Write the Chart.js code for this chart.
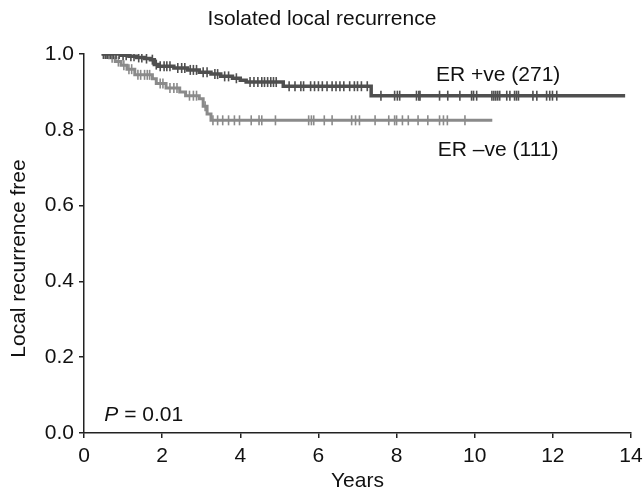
<!DOCTYPE html>
<html>
<head>
<meta charset="utf-8">
<script src="https://cdn.jsdelivr.net/npm/chart.js@4/dist/chart.umd.min.js"></script>
<style>
  body { margin: 0; background: #fff; }
</style>
</head>
<body>
<canvas id="km" width="644" height="491"></canvas>
<script>
// Kaplan-Meier steps (time in years, survival after the drop)
let posTimes = [0.45, 0.95, 1.15, 1.35, 1.55, 1.7, 1.8, 1.9, 2.3, 2.65, 2.95, 3.25, 3.5, 3.8, 4.0, 4.15, 5.1, 7.35, 13.85];
let posSurv  = [1.0, 0.997, 0.994, 0.991, 0.988, 0.985, 0.972, 0.968, 0.963, 0.958, 0.952, 0.947, 0.941, 0.936, 0.931, 0.926, 0.915, 0.89, 0.89];
let negTimes = [0.45, 0.65, 0.8, 0.95, 1.1, 1.3, 1.75, 1.85, 2.1, 2.45, 2.6, 2.95, 3.05, 3.15, 3.25, 10.45];
let negSurv  = [1.0, 0.99, 0.98, 0.97, 0.96, 0.945, 0.935, 0.922, 0.91, 0.9, 0.89, 0.882, 0.862, 0.842, 0.825, 0.825];

// censored observations (years)
let posCensor = [0.5, 0.55, 0.6, 0.68, 0.75, 0.82, 0.9, 1.0, 1.08, 1.2, 1.28, 1.4, 1.48, 1.6, 1.75, 1.85, 1.95, 2.05, 2.12, 2.2, 2.4, 2.5, 2.58, 2.72, 2.8, 2.88, 3.05, 3.15, 3.35, 3.42, 3.6, 3.7, 3.9, 4.25, 4.35, 4.45, 4.55, 4.62, 4.7, 4.78, 4.85, 4.92, 5.25, 5.4, 5.55, 5.62, 5.8, 5.9, 6.0, 6.1, 6.22, 6.35, 6.45, 6.55, 6.65, 6.8, 6.92, 7.0, 7.1, 7.25, 7.6, 7.95, 8.02, 8.08, 8.51, 8.57, 8.6, 9.1, 9.31, 9.62, 9.92, 9.97, 10.05, 10.44, 10.49, 10.54, 10.59, 10.64, 10.82, 10.9, 11.02, 11.07, 11.12, 11.49, 11.59, 11.84, 11.92, 11.99, 12.1];
let negCensor = [0.5, 0.58, 0.72, 0.88, 1.02, 1.15, 1.22, 1.38, 1.45, 1.55, 1.62, 1.68, 1.95, 2.02, 2.2, 2.3, 2.38, 2.7, 2.8, 2.88, 3.1, 3.3, 3.42, 3.55, 3.7, 3.85, 3.98, 4.28, 4.48, 4.55, 4.9, 5.75, 5.82, 5.88, 6.15, 6.35, 6.85, 6.95, 7.05, 7.45, 7.8, 7.95, 8.0, 8.15, 8.3, 8.55, 8.8, 9.1, 9.2, 9.3, 9.75];

let xTicks = [0, 2, 4, 6, 8, 10, 12, 14];
let yTicks = [0, 0.2, 0.4, 0.6, 0.8, 1.0];

let seriesNames = ['ER +ve (271)', 'ER \u2013ve (111)'];
let labelX = [10.6, 10.6];
let labelY = [0.945, 0.747];

let darkGrey = '#4f4f4f';
let lightGrey = '#8a8a8a';
let font = '"Liberation Sans", Arial, sans-serif';
let fsize = 21;

function toPoints(times, surv) {
    return times.map((t, i) => ({ x: t, y: surv[i] }));
}

// survival level at a censoring time, looked up from the step arrays
function levelAt(times, surv, t) {
    let v = surv[0];
    for (let i = 0; i < times.length; i++) {
        if (times[i] <= t) v = surv[i];
    }
    return v;
}

function censorPoints(times, surv, cens) {
    return cens.map(t => ({ x: t, y: levelAt(times, surv, t) }));
}

const textPlugin = {
    id: 'texts',
    afterDraw(chart) {
        const ctx = chart.ctx;
        const xs = chart.scales.x;
        const ys = chart.scales.y;
        const area = chart.chartArea;
        ctx.save();
        ctx.fillStyle = '#111';
        ctx.textBaseline = 'middle';
        ctx.font = fsize + 'px ' + font;

        ctx.textAlign = 'center';
        ctx.fillText('Isolated local recurrence', chart.width / 2, 19);

        for (let i = 0; i < seriesNames.length; i++) {
            ctx.fillText(seriesNames[i], xs.getPixelForValue(labelX[i]), ys.getPixelForValue(labelY[i]));
        }

        // P value, P in italics
        ctx.textAlign = 'left';
        let px = xs.getPixelForValue(0.52);
        let py = ys.getPixelForValue(0.047);
        ctx.font = 'italic ' + fsize + 'px ' + font;
        ctx.fillText('P', px, py);
        let w = ctx.measureText('P').width;
        ctx.font = fsize + 'px ' + font;
        ctx.fillText(' = 0.01', px + w, py);

        // y axis title
        ctx.translate(19, (area.top + area.bottom) / 2 + 15);
        ctx.rotate(-Math.PI / 2);
        ctx.textAlign = 'center';
        ctx.fillText('Local recurrence free', 0, 0);
        ctx.restore();
    }
};

new Chart(document.getElementById('km'), {
    type: 'scatter',
    data: {
        datasets: [
            {
                label: seriesNames[0],
                data: toPoints(posTimes, posSurv),
                showLine: true,
                stepped: true,
                borderColor: darkGrey,
                borderWidth: 3.5,
                pointRadius: 0
            },
            {
                label: seriesNames[0] + ' censored',
                data: censorPoints(posTimes, posSurv, posCensor),
                pointStyle: 'line',
                rotation: 90,
                pointRadius: 5,
                pointBorderWidth: 1.6,
                pointBorderColor: darkGrey,
                borderColor: darkGrey
            },
            {
                label: seriesNames[1],
                data: toPoints(negTimes, negSurv),
                showLine: true,
                stepped: true,
                borderColor: lightGrey,
                borderWidth: 3,
                pointRadius: 0
            },
            {
                label: seriesNames[1] + ' censored',
                data: censorPoints(negTimes, negSurv, negCensor),
                pointStyle: 'line',
                rotation: 90,
                pointRadius: 5,
                pointBorderWidth: 1.6,
                pointBorderColor: lightGrey,
                borderColor: lightGrey
            }
        ]
    },
    options: {
        responsive: false,
        animation: false,
        layout: { padding: { top: 54, right: 13, left: 0, bottom: 0 } },
        plugins: {
            legend: { display: false },
            tooltip: { enabled: false }
        },
        scales: {
            x: {
                type: 'linear',
                min: 0,
                max: 14,
                afterBuildTicks: s => { s.ticks = xTicks.map(v => ({ value: v })); },
                afterFit: s => { s.height = 58; s.paddingLeft = 0; s.paddingRight = 0; },
                ticks: { color: '#111', font: { size: fsize, family: font }, padding: 6 },
                grid: { display: true, drawOnChartArea: false, drawTicks: true, tickLength: 5, color: '#222', lineWidth: 1.5 },
                border: { display: true, color: '#222', width: 1.5 },
                title: { display: true, text: 'Years', color: '#111', font: { size: fsize, family: font }, padding: { top: 0, bottom: -3 } }
            },
            y: {
                type: 'linear',
                min: 0,
                max: 1,
                afterBuildTicks: s => { s.ticks = yTicks.map(v => ({ value: v })); },
                afterFit: s => { s.width = 84; s.paddingTop = 0; s.paddingBottom = 0; },
                ticks: { color: '#111', font: { size: fsize, family: font }, padding: 5, callback: v => v.toFixed(1) },
                grid: { display: true, drawOnChartArea: false, drawTicks: true, tickLength: 5, color: '#222', lineWidth: 1.5 },
                border: { display: true, color: '#222', width: 1.5 }
            }
        }
    },
    plugins: [textPlugin]
});
</script>
</body>
</html>
